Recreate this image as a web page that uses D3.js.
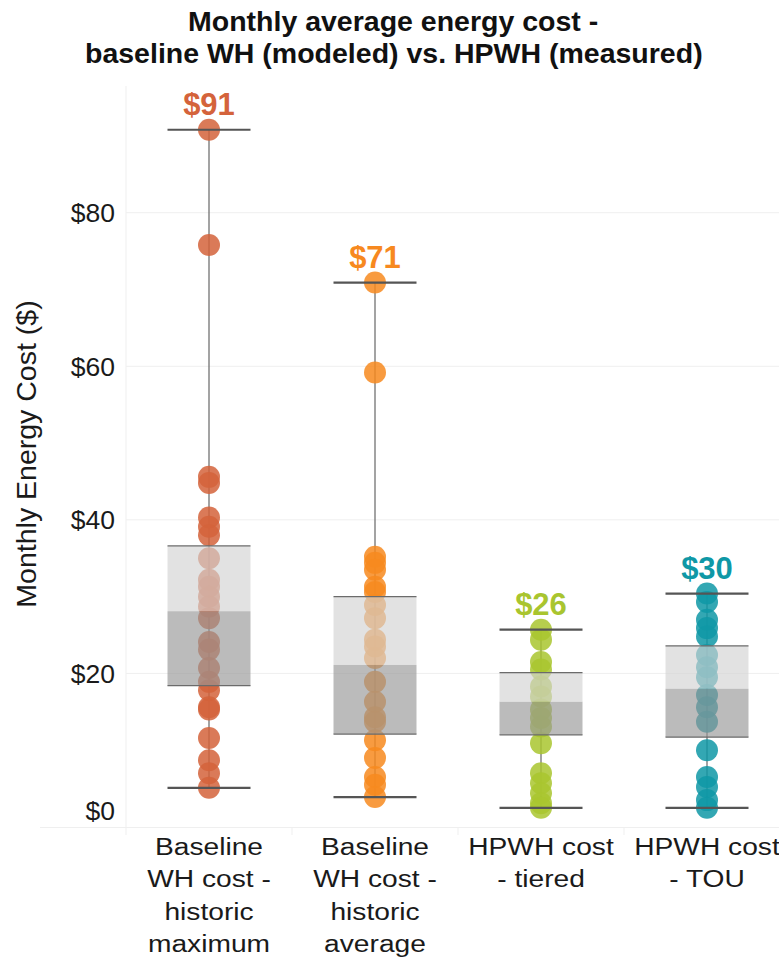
<!DOCTYPE html>
<html>
<head>
  <meta charset="utf-8">
  <title>Monthly average energy cost</title>
  <style>
    body { margin: 0; background: #fff; }
    text { font-family: Arial, "Liberation Sans", sans-serif; }
  </style>
</head>
<body>
  <svg width="779" height="963"></svg>
  <script src="https://cdn.jsdelivr.net/npm/d3@7"></script>
  <script>

  // categories and colours
  var categories = [
    ["Baseline", "WH cost -", "historic", "maximum"],
    ["Baseline", "WH cost -", "historic", "average"],
    ["HPWH cost", "- tiered"],
    ["HPWH cost", "- TOU"]
  ];
  var colors = ["#d4633b", "#f7891f", "#a9c52f", "#0f98a6"];

  // monthly cost per site
  var maxHistoric = [90.8, 75.8, 45.6, 44.8, 40.3, 39.1, 38.0, 35.0, 32.2, 31.3, 30.0, 28.7,
                     27.2, 24.1, 23.1, 20.7, 18.9, 17.8, 15.6, 15.3, 11.6, 8.7, 7.0, 5.1];
  var avgHistoric = [70.9, 59.2, 35.2, 34.4, 33.5, 31.3, 30.6, 28.9, 27.2, 24.4, 23.5, 22.0,
                     18.9, 16.3, 14.3, 13.7, 11.3, 9.0, 6.5, 5.5, 3.9];
  var hpwhTiered = [25.7, 24.4, 21.5, 20.5, 18.3, 17.0, 15.3, 14.2, 13.1, 10.9, 7.0, 5.7,
                    4.4, 3.1, 2.5];
  var hpwhTOU = [30.4, 29.3, 27.0, 25.9, 24.8, 22.4, 20.8, 19.5, 17.2, 15.6, 13.7, 10.0,
                 6.5, 5.2, 3.5, 2.5];
  var series = [maxHistoric, avgHistoric, hpwhTiered, hpwhTOU];

  // box plot stats per column
  var whiskerLow = [5.1, 3.9, 2.5, 2.5];
  var quart1 = [18.4, 12.1, 12.0, 11.7];
  var medians = [28.1, 21.1, 16.3, 18.0];
  var quart3 = [36.6, 30.0, 20.1, 23.6];
  var whiskerHigh = [90.8, 70.9, 25.7, 30.4];

  var yTicks = [0, 20, 40, 60, 80];

  var svg = d3.select("svg");

  var x = d3.scaleBand()
      .domain(d3.range(categories.length))
      .range([126, 790]);

  var y = d3.scaleLinear()
      .domain([0, 96.5])
      .range([827, 86]);

  var cx = function(i) { return x(i) + x.bandwidth() / 2; };
  var half = 41.5;

  // grid
  var grid = svg.append("g");
  grid.selectAll("line.h")
      .data(yTicks.slice(1))
      .enter().append("line")
      .attr("x1", 126).attr("x2", 779)
      .attr("y1", function(d) { return y(d); })
      .attr("y2", function(d) { return y(d); })
      .attr("stroke", "#efefef").attr("stroke-width", 1);
  grid.append("line")
      .attr("x1", 126).attr("x2", 126)
      .attr("y1", y.range()[1]).attr("y2", y(0))
      .attr("stroke", "#efefef");
  grid.append("line")
      .attr("x1", 40).attr("x2", 779)
      .attr("y1", y(0) + 0.5).attr("y2", y(0) + 0.5)
      .attr("stroke", "#efefef");
  grid.selectAll("line.div")
      .data(d3.range(categories.length))
      .enter().append("line")
      .attr("x1", function(i) { return x(i); })
      .attr("x2", function(i) { return x(i); })
      .attr("y1", y(0)).attr("y2", y(0) + 8)
      .attr("stroke", "#efefef");

  // y tick labels
  svg.append("g").selectAll("text")
      .data(yTicks)
      .enter().append("text")
      .attr("x", 115)
      .attr("y", function(d) { return d === 0 ? y(d) - 16 : y(d); })
      .attr("dy", "0.35em")
      .attr("text-anchor", "end")
      .attr("font-size", 26.5)
      .attr("fill", "#1a1a1a")
      .text(function(d) { return "$" + d; });

  svg.append("text")
      .attr("transform", "translate(36,454) rotate(-90)")
      .attr("text-anchor", "middle")
      .attr("font-size", 28.5)
      .attr("fill", "#1a1a1a")
      .text("Monthly Energy Cost ($)");

  // title
  var title = svg.append("text")
      .attr("font-size", 28.5)
      .attr("font-weight", "bold")
      .attr("fill", "#111");
  title.append("tspan").attr("x", 188).attr("y", 31).text("Monthly average energy cost -");
  title.append("tspan").attr("x", 85).attr("y", 63).text("baseline WH (modeled) vs. HPWH (measured)");

  var col = svg.append("g").selectAll("g")
      .data(d3.range(categories.length))
      .enter().append("g");

  // whisker stem
  col.append("line")
      .attr("x1", cx).attr("x2", cx)
      .attr("y1", function(i) { return y(whiskerHigh[i]); })
      .attr("y2", function(i) { return y(whiskerLow[i]); })
      .attr("stroke", "#666").attr("stroke-width", 1.2);

  // points
  col.each(function(i) {
    d3.select(this).selectAll("circle")
        .data(series[i])
        .enter().append("circle")
        .attr("cx", cx(i))
        .attr("cy", function(d) { return y(d); })
        .attr("r", 11)
        .attr("fill", colors[i])
        .attr("fill-opacity", 0.85);
  });

  // boxes
  col.append("rect")
      .attr("x", function(i) { return cx(i) - half; })
      .attr("width", half * 2)
      .attr("y", function(i) { return y(quart3[i]); })
      .attr("height", function(i) { return y(medians[i]) - y(quart3[i]); })
      .attr("fill", "#d2d2d2").attr("fill-opacity", 0.65);
  col.append("rect")
      .attr("x", function(i) { return cx(i) - half; })
      .attr("width", half * 2)
      .attr("y", function(i) { return y(medians[i]); })
      .attr("height", function(i) { return y(quart1[i]) - y(medians[i]); })
      .attr("fill", "#969696").attr("fill-opacity", 0.65);

  [quart1, quart3].forEach(function(arr) {
    col.append("line")
        .attr("x1", function(i) { return cx(i) - half; })
        .attr("x2", function(i) { return cx(i) + half; })
        .attr("y1", function(i) { return y(arr[i]); })
        .attr("y2", function(i) { return y(arr[i]); })
        .attr("stroke", "#6b6b6b").attr("stroke-width", 1.3);
  });
  [whiskerLow, whiskerHigh].forEach(function(arr) {
    col.append("line")
        .attr("x1", function(i) { return cx(i) - half; })
        .attr("x2", function(i) { return cx(i) + half; })
        .attr("y1", function(i) { return y(arr[i]); })
        .attr("y2", function(i) { return y(arr[i]); })
        .attr("stroke", "#555").attr("stroke-width", 2.2);
  });

  // max labels
  col.append("text")
      .attr("x", cx)
      .attr("y", function(i) { return y(whiskerHigh[i]) - 15; })
      .attr("text-anchor", "middle")
      .attr("font-size", 31)
      .attr("font-weight", "bold")
      .attr("fill", function(i) { return colors[i]; })
      .text(function(i) { return "$" + Math.round(whiskerHigh[i]); });

  // category labels (slightly widened like the original)
  col.append("text")
      .attr("transform", function(i) { return "translate(" + cx(i) + ",0) scale(1.15,1)"; })
      .attr("text-anchor", "middle")
      .attr("font-size", 24.5)
      .attr("fill", "#1a1a1a")
      .each(function(i) {
        d3.select(this).selectAll("tspan")
            .data(categories[i])
            .enter().append("tspan")
            .attr("x", 0)
            .attr("y", function(d, k) { return 855 + k * 32.5; })
            .text(function(d) { return d; });
      });

  </script>
</body>
</html>
